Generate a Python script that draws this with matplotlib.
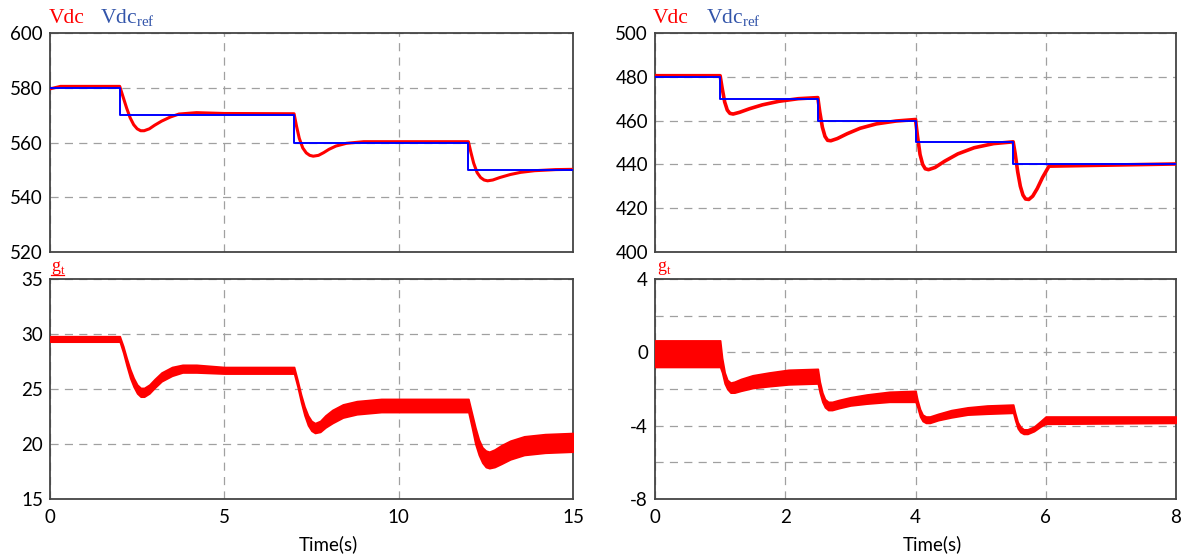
import matplotlib
matplotlib.use("Agg")
import matplotlib.pyplot as plt
from matplotlib.lines import Line2D
from matplotlib.ticker import MultipleLocator

plt.rcParams["axes.unicode_minus"] = False

# ---- left column (0-15 s) ----
ref_left_t = [0, 2, 2, 7, 7, 12, 12, 15]
ref_left_v = [580, 580, 570, 570, 560, 560, 550, 550]

vdc_left_t = [0, 0.3, 2.0, 2.1, 2.2, 2.3, 2.4, 2.5, 2.6, 2.7, 2.85, 3.0, 3.2, 3.45, 3.7, 4.2, 5.0, 7.0,
              7.07, 7.15, 7.25, 7.35, 7.45, 7.55, 7.7, 7.85, 8.0, 8.2, 8.5, 9.0, 12.0,
              12.07, 12.15, 12.25, 12.35, 12.45, 12.55, 12.7, 12.9, 13.2, 13.5, 13.9, 14.5, 15.0]
vdc_left_v = [579.6, 580.5, 580.5, 576.5, 572.5, 569, 566.5, 565, 564.3, 564.3, 565, 566.3, 567.8, 569.3, 570.4, 570.9, 570.6, 570.5,
              566, 561.5, 558, 556.2, 555.3, 555, 555.3, 556.3, 557.5, 558.7, 559.7, 560.3, 560.3,
              556.5, 552.5, 549, 547.2, 546.3, 546, 546.3, 547.2, 548.3, 549.1, 549.7, 550.1, 550.2]

gt_left_t = [0, 2.0, 2.1, 2.2, 2.3, 2.4, 2.5, 2.6, 2.7, 2.85, 3.0, 3.2, 3.5, 3.8, 4.2, 5.0, 7.0,
             7.1, 7.2, 7.3, 7.4, 7.5, 7.6, 7.75, 7.9, 8.1, 8.4, 8.8, 9.5, 12.0,
             12.1, 12.2, 12.3, 12.4, 12.5, 12.6, 12.75, 12.95, 13.2, 13.6, 14.2, 15.0]
gt_left_hi = [29.8, 29.8, 28.9, 27.8, 26.8, 26.0, 25.4, 25.1, 25.1, 25.4, 25.9, 26.5, 27.0, 27.2, 27.2, 27.0, 27.0,
              25.8, 24.5, 23.4, 22.6, 22.1, 21.9, 22.1, 22.6, 23.1, 23.6, 23.9, 24.1, 24.1,
              22.8, 21.5, 20.4, 19.7, 19.4, 19.3, 19.5, 19.9, 20.3, 20.7, 20.9, 21.0]
gt_left_lo = [29.3, 29.3, 28.3, 27.1, 26.0, 25.2, 24.6, 24.3, 24.3, 24.6, 25.1, 25.7, 26.2, 26.5, 26.5, 26.4, 26.4,
              25.2, 23.8, 22.6, 21.7, 21.2, 21.0, 21.1, 21.5, 21.9, 22.4, 22.7, 22.9, 22.9,
              21.5, 20.0, 19.0, 18.3, 17.9, 17.8, 17.9, 18.2, 18.6, 19.0, 19.2, 19.3]

# ---- right column (0-8 s) ----
ref_right_t = [0, 1, 1, 2.5, 2.5, 4, 4, 5.5, 5.5, 8]
ref_right_v = [480, 480, 470, 470, 460, 460, 450, 450, 440, 440]

vdc_right_t = [0, 1.0, 1.03, 1.07, 1.11, 1.15, 1.2, 1.3, 1.45, 1.65, 1.9, 2.2, 2.5,
               2.53, 2.57, 2.61, 2.65, 2.7, 2.8, 2.95, 3.15, 3.4, 3.7, 4.0,
               4.03, 4.07, 4.11, 4.15, 4.2, 4.3, 4.45, 4.65, 4.9, 5.2, 5.5,
               5.53, 5.57, 5.61, 5.65, 5.69, 5.74, 5.8, 5.87, 5.95, 6.05, 8.0]
vdc_right_v = [480.5, 480.5, 475, 468.5, 464.8, 463.3, 463, 463.8, 465.4, 467.2, 468.8, 470, 470.5,
               464, 457, 452.8, 451, 450.8, 451.8, 454, 456.5, 458.5, 459.8, 460.5,
               453, 444.5, 440, 438, 437.6, 438.6, 441.5, 444.8, 447.6, 449.5, 450.3,
               445, 436.5, 430, 426, 424.2, 424, 425.5, 429, 434, 439.2, 440.2]

gt_right_t = [0, 1.0, 1.03, 1.07, 1.11, 1.16, 1.22, 1.32, 1.5, 1.75, 2.05, 2.5,
              2.53, 2.57, 2.61, 2.66, 2.72, 2.82, 3.0, 3.25, 3.6, 4.0,
              4.03, 4.07, 4.11, 4.16, 4.22, 4.35, 4.55, 4.8, 5.1, 5.5,
              5.53, 5.57, 5.61, 5.66, 5.72, 5.82, 5.92, 6.0, 8.0]
gt_right_hi = [0.65, 0.65, -0.3, -1.1, -1.5, -1.65, -1.6, -1.45, -1.25, -1.1, -0.95, -0.9,
               -1.6, -2.2, -2.55, -2.7, -2.7, -2.6, -2.45, -2.3, -2.15, -2.1,
               -2.6, -3.1, -3.4, -3.5, -3.5, -3.35, -3.15, -3.0, -2.9, -2.85,
               -3.3, -3.8, -4.05, -4.2, -4.2, -4.05, -3.75, -3.5, -3.5]
gt_right_lo = [-0.8, -0.8, -1.1, -1.7, -2.0, -2.2, -2.2, -2.1, -1.95, -1.85, -1.75, -1.7,
               -2.2, -2.7, -3.0, -3.15, -3.15, -3.05, -2.9, -2.8, -2.7, -2.7,
               -3.0, -3.5, -3.75, -3.85, -3.85, -3.7, -3.55, -3.4, -3.35, -3.3,
               -3.7, -4.15, -4.35, -4.45, -4.45, -4.3, -4.05, -3.9, -3.85]

RED = "#ff0000"
BLUE = "#0000ff"
REF_TXT = "#3355aa"
TICK_FONT = "Lato"
TITLE_FONT = "Liberation Serif"

W, H = 1184, 559


def px_axes(fig, x0, y0, x1, y1):
    return fig.add_axes([x0 / W, 1 - y1 / H, (x1 - x0) / W, (y1 - y0) / H])


def style(ax, xmax, xstep, ylim, ymajor, yminor, xlabel=False):
    ax.set_xlim(0, xmax)
    ax.set_ylim(*ylim)
    ax.xaxis.set_major_locator(MultipleLocator(xstep))
    ax.yaxis.set_major_locator(MultipleLocator(ymajor))
    ax.yaxis.set_minor_locator(MultipleLocator(yminor))
    ax.grid(True, which="both", color="#a0a0a0", lw=0.9, linestyle=(0, (6.5, 5)))
    ax.tick_params(which="both", length=0, labelsize=13.5, pad=5)
    for lab in ax.get_xticklabels() + ax.get_yticklabels():
        lab.set_fontfamily(TICK_FONT)
    for sp in ax.spines.values():
        sp.set_color("#444444")
        sp.set_linewidth(1.3)
    if xlabel:
        ax.tick_params(axis="x", pad=7)
        ax.set_xlabel("Time(s)", fontsize=13.5, fontfamily=TICK_FONT)
        ax.xaxis.set_label_coords(0.532, -0.165)
    else:
        ax.set_xticklabels([])


fig = plt.figure(figsize=(W / 100, H / 100), dpi=100)

ax_lt = px_axes(fig, 50, 33, 573, 252)
ax_lb = px_axes(fig, 50, 279, 573, 499)
ax_rt = px_axes(fig, 655, 33, 1176, 252)
ax_rb = px_axes(fig, 655, 279, 1176, 499)

# Vdc panels
ax_lt.plot(vdc_left_t, vdc_left_v, color=RED, lw=2.2, zorder=3)
ax_lt.plot(ref_left_t, ref_left_v, color=BLUE, lw=1.4, zorder=4)
ax_rt.plot(vdc_right_t, vdc_right_v, color=RED, lw=2.6, zorder=3)
ax_rt.plot(ref_right_t, ref_right_v, color=BLUE, lw=1.4, zorder=4)

# g_t panels (thick ripple band)
ax_lb.fill_between(gt_left_t, gt_left_lo, gt_left_hi, color=RED, lw=1.2, edgecolor=RED, zorder=3)
ax_rb.fill_between(gt_right_t, gt_right_lo, gt_right_hi, color=RED, lw=1.2, edgecolor=RED, zorder=3)

style(ax_lt, 15, 5, (520, 600), 20, 20)
style(ax_lb, 15, 5, (15, 35), 5, 5, xlabel=True)
style(ax_rt, 8, 2, (400, 500), 20, 20)
style(ax_rb, 8, 2, (-8, 4), 4, 2, xlabel=True)

# signal names above the panels
for x_vdc, x_ref in [(49, 100), (653, 706)]:
    fig.text(x_vdc / W, 1 - 23 / H, "Vdc", color=RED, fontsize=15.5,
             fontfamily=TITLE_FONT, va="baseline")
    fig.text(x_ref / W, 1 - 23 / H, r"Vdc$_{\mathregular{ref}}$", color=REF_TXT,
             fontsize=15.5, fontfamily=TITLE_FONT, va="baseline")

fig.text(51 / W, 1 - 271 / H, r"g$_{\mathregular{t}}$", color=RED, fontsize=13,
         fontfamily=TITLE_FONT, va="baseline")
fig.add_artist(Line2D([51 / W, 64 / W], [1 - 274.5 / H, 1 - 274.5 / H], color=RED, lw=0.9))
fig.text(657 / W, 1 - 271 / H, r"g$_{\mathregular{t}}$", color=RED, fontsize=13,
         fontfamily=TITLE_FONT, va="baseline")

fig.savefig("out.png", dpi=100)
